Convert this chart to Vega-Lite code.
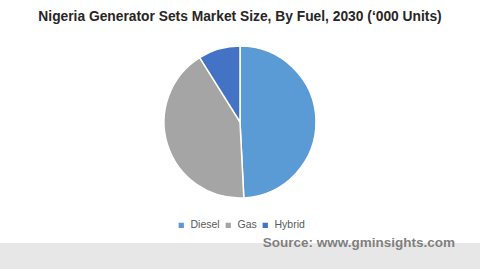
{
  "$schema": "https://vega.github.io/schema/vega-lite/v6.json",
  "padding": {"top": 10, "left": 0, "right": 0, "bottom": 0},
  "spacing": 18,
  "background": "white",
  "title": {
    "text": "Nigeria Generator Sets Market Size, By Fuel, 2030 (‘000 Units)",
    "font": "Liberation Sans",
    "fontSize": 13.8,
    "fontWeight": "bold",
    "color": "#262626",
    "anchor": "middle",
    "offset": 2
  },
  "config": {"view": {"stroke": null}},
  "vconcat": [
    {
      "width": 480,
      "height": 192,
      "data": {"values": [
        {"fuel": "Diesel", "units": 49.2},
        {"fuel": "Gas", "units": 41.9},
        {"fuel": "Hybrid", "units": 8.9}
      ]},
      "mark": {"type": "arc", "outerRadius": 76, "stroke": "white", "strokeWidth": 1.5},
      "encoding": {
        "theta": {"field": "units", "type": "quantitative", "stack": true},
        "order": {"field": "fuel", "sort": "ascending"},
        "color": {
          "field": "fuel",
          "type": "nominal",
          "scale": {"domain": ["Diesel", "Gas", "Hybrid"], "range": ["#5B9BD5", "#A5A5A5", "#4472C4"]},
          "legend": {
            "title": null,
            "orient": "none",
            "legendX": 176,
            "legendY": 194,
            "direction": "horizontal",
            "symbolType": "square",
            "symbolSize": 28,
            "symbolStrokeWidth": 0,
            "labelFont": "Liberation Sans",
            "labelFontSize": 10.5,
            "labelColor": "#595959",
            "columnPadding": 3,
            "labelOffset": 4
          }
        }
      }
    },
    {
      "width": 480,
      "height": 26,
      "view": {"fill": "#E7E7E7", "stroke": null},
      "data": {"values": [{"source": "Source: www.gminsights.com"}]},
      "mark": {"type": "text", "align": "right", "baseline": "middle", "x": {"expr": "width"}, "dx": -25, "y": {"expr": "height/2"}, "font": "Liberation Sans", "fontSize": 13.5, "fontWeight": "bold", "color": "#7F7F7F"},
      "encoding": {"text": {"field": "source", "type": "nominal"}}
    }
  ]
}
